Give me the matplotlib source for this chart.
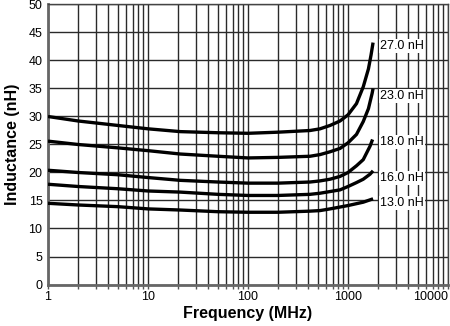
import numpy as np
import matplotlib.pyplot as plt
from matplotlib.ticker import FixedLocator, LogLocator, NullFormatter

plt.rcParams["font.family"] = ["Liberation Sans", "DejaVu Sans"]

# frequency points (MHz) and inductance (nH) for each part value
freq_270 = [1, 2, 5, 10, 21, 50, 100, 200, 417, 525, 661, 832, 1000, 1215, 1420, 1600, 1700, 1780]
ind_270 = [30.0, 29.2, 28.4, 27.8, 27.3, 27.1, 27.0, 27.2, 27.5, 27.8, 28.4, 29.2, 30.3, 32.3, 35.3, 38.5, 41.0, 43.2]

freq_230 = [1, 2, 5, 10, 21, 50, 100, 200, 417, 525, 661, 832, 1000, 1215, 1420, 1600, 1740, 1780]
ind_230 = [25.6, 25.0, 24.4, 23.9, 23.3, 22.9, 22.6, 22.7, 22.9, 23.2, 23.7, 24.3, 25.3, 26.8, 29.1, 31.4, 34.1, 35.0]

freq_180 = [1, 2, 5, 10, 21, 50, 100, 200, 417, 525, 661, 832, 1000, 1215, 1420, 1660, 1760]
ind_180 = [20.4, 20.0, 19.6, 19.1, 18.6, 18.3, 18.1, 18.1, 18.3, 18.5, 18.8, 19.3, 20.0, 21.2, 22.3, 24.7, 25.9]

freq_160 = [1, 2, 5, 10, 21, 50, 100, 200, 417, 525, 661, 832, 1000, 1215, 1420, 1660, 1780]
ind_160 = [17.9, 17.5, 17.1, 16.7, 16.5, 16.1, 15.9, 15.9, 16.1, 16.3, 16.6, 16.9, 17.5, 18.2, 18.8, 19.7, 20.3]

freq_130 = [1, 2, 5, 10, 21, 50, 100, 200, 417, 525, 661, 1000, 1420, 1780]
ind_130 = [14.5, 14.2, 13.9, 13.5, 13.3, 13.0, 12.9, 12.9, 13.1, 13.2, 13.5, 14.1, 14.7, 15.3]

labels = ["27.0 nH", "23.0 nH", "18.0 nH", "16.0 nH", "13.0 nH"]
label_y = [42.6, 33.6, 25.4, 19.0, 14.6]
label_x = 2080

x_ticks = [1, 10, 100, 1000, 10000]
y_ticks = list(range(0, 55, 5))

fig = plt.figure(figsize=(4.5, 3.26), dpi=100)
ax = fig.add_axes([0.1067, 0.1273, 0.8889, 0.8589])

ax.set_xscale("log")
ax.set_xlim(1, 10000)
ax.set_ylim(0, 50)

# grid on every decade sub-division and every 5 nH
ax.xaxis.set_major_locator(FixedLocator(x_ticks))
ax.xaxis.set_minor_locator(LogLocator(base=10, subs=np.arange(2, 10)))
ax.xaxis.set_minor_formatter(NullFormatter())
ax.set_xticklabels([str(t) for t in x_ticks])
ax.set_yticks(y_ticks)
ax.grid(True, which="both", axis="x", color="#2a2a2a", linewidth=1.0)
ax.grid(True, which="major", axis="y", color="#2a2a2a", linewidth=1.0)

ax.tick_params(axis="x", which="both", direction="out", length=3, width=1,
               color="#555555", labelsize=9, pad=2)
ax.tick_params(axis="y", which="both", length=0, labelsize=9, pad=4)
xlabels = ax.get_xticklabels()
xlabels[-1].set_horizontalalignment("right")

for side in ["left", "bottom"]:
    ax.spines[side].set_color("#666666")
    ax.spines[side].set_linewidth(2)
for side in ["top", "right"]:
    ax.spines[side].set_color("#444444")
    ax.spines[side].set_linewidth(1)

curves = [
    (freq_270, ind_270),
    (freq_230, ind_230),
    (freq_180, ind_180),
    (freq_160, ind_160),
    (freq_130, ind_130),
]
for f, l in curves:
    ax.plot(f, l, color="black", linewidth=2.4, solid_capstyle="butt",
            solid_joinstyle="round", zorder=3)

for text, y in zip(labels, label_y):
    ax.text(label_x, y, text, fontsize=9, va="center", ha="left", zorder=4,
            bbox=dict(facecolor="white", edgecolor="none", pad=0.8))

ax.set_xlabel("Frequency (MHz)", fontsize=11.5, fontweight="bold", labelpad=2)
ax.set_ylabel("Inductance (nH)", fontsize=11.5, fontweight="bold", labelpad=6)

fig.savefig("out.png", dpi=100)
